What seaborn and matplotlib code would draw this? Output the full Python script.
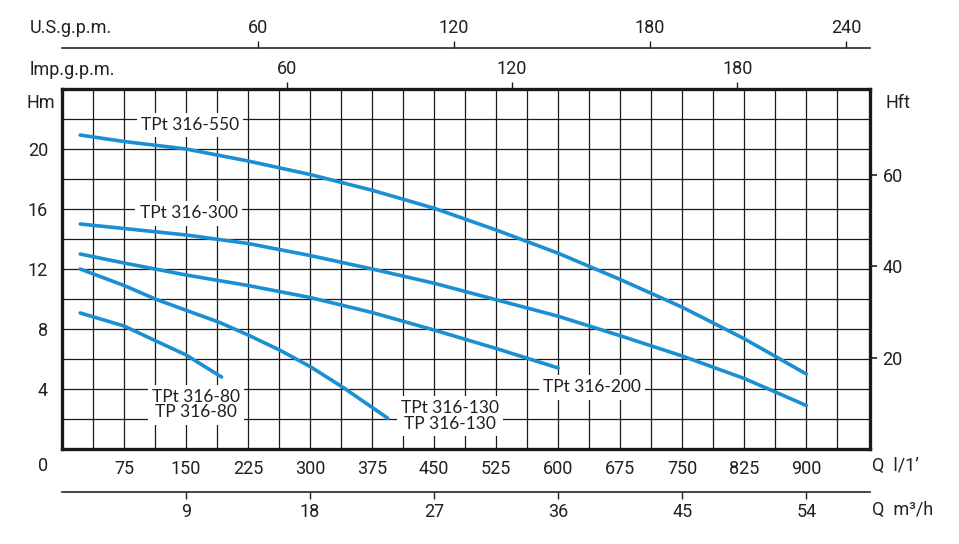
import matplotlib
matplotlib.use('Agg')
import matplotlib.pyplot as plt
import pandas as pd
import seaborn as sns

sns.set_style('white')
plt.rcParams['font.family'] = ['Roboto', 'DejaVu Sans']

# Pump curves: flow Q in l/min, head H in m
q_550 = [22, 75, 150, 225, 300, 375, 450, 525, 600, 675, 750, 825, 900]
h_550 = [20.93, 20.5, 20.0, 19.2, 18.3, 17.25, 16.05, 14.6, 13.05, 11.3, 9.45, 7.35, 5.0]
q_300 = [22, 75, 150, 225, 300, 375, 450, 525, 600, 675, 750, 825, 900]
h_300 = [15.0, 14.7, 14.27, 13.7, 12.9, 12.0, 11.05, 9.95, 8.85, 7.55, 6.2, 4.7, 2.9]
q_200 = [22, 75, 150, 225, 300, 375, 450, 525, 600]
h_200 = [13.0, 12.4, 11.6, 10.9, 10.1, 9.1, 7.93, 6.7, 5.4]
q_130 = [22, 75, 115, 150, 190, 225, 263, 300, 340, 394]
h_130 = [12.0, 10.9, 9.95, 9.25, 8.45, 7.6, 6.6, 5.5, 4.1, 2.05]
q_80 = [22, 75, 111, 150, 193]
h_80 = [9.07, 8.2, 7.27, 6.27, 4.8]

curve_names = ['TPt 316-550', 'TPt 316-300', 'TPt 316-200',
               'TPt 316-130\nTP 316-130', 'TPt 316-80\nTP 316-80']
curve_q = [q_550, q_300, q_200, q_130, q_80]
curve_h = [h_550, h_300, h_200, h_130, h_80]

lpm_ticks = [75, 150, 225, 300, 375, 450, 525, 600, 675, 750, 825, 900]
hm_ticks = [4, 8, 12, 16, 20]
hft_ticks = [20, 40, 60]
imp_ticks = [60, 120, 180]
us_ticks = [60, 120, 180, 240]
m3h_ticks = [9, 18, 27, 36, 45, 54]

df = pd.concat([pd.DataFrame({'Q': q, 'H': h, 'pump': n})
                for n, q, h in zip(curve_names, curve_q, curve_h)])

blue = '#1b8fd4'
ink = '#231f20'
W, H = 959, 544

fig = plt.figure(figsize=(W / 100, H / 100), dpi=100)
ax = fig.add_axes([62 / W, (H - 449) / H, 808 / W, 360 / H])

sns.lineplot(data=df, x='Q', y='H', hue='pump', units='pump', estimator=None,
             palette=[blue] * len(curve_names), linewidth=2.6, legend=False,
             sort=False, ax=ax, zorder=5)

ax.set_xlim(0, 977)
ax.set_ylim(0, 24)
ax.set_xticks(lpm_ticks)
ax.set_xticks([37.5 + 75 * i for i in range(13)], minor=True)
ax.set_yticks(hm_ticks)
ax.set_yticks([2 * i for i in range(1, 12)], minor=True)
ax.grid(True, which='both', color='#1a1a1a', linewidth=0.9, zorder=1)
ax.set_axisbelow(True)
ax.tick_params(axis='both', which='both', length=0, labelsize=13, colors=ink)
ax.tick_params(axis='x', pad=8)
ax.tick_params(axis='y', pad=10)
ax.set_xlabel('')
ax.set_ylabel('')
for s in ax.spines.values():
    s.set_linewidth(2.4)
    s.set_color('#1a1a1a')
    s.set_zorder(6)

# curve labels with white boxes over the grid (data coords)
label_pos = [(155, 21.6), (153, 15.7), (641, 4.1), (469, 2.2), (162, 2.95)]
for name, (x, y) in zip(curve_names, label_pos):
    ax.text(x, y, name, ha='center', va='center', fontsize=12.5, color=ink,
            family=['Lato', 'DejaVu Sans'], linespacing=0.95, zorder=7,
            bbox=dict(facecolor='white', edgecolor='none', pad=3))

# Imp gpm on top of frame
imp = ax.secondary_xaxis('top', functions=(lambda q: q / 4.536, lambda g: g * 4.536))
imp.set_xticks(imp_ticks)
imp.tick_params(length=5, width=1, pad=3, labelsize=13, colors=ink)
imp.spines['top'].set_visible(False)

# US gpm axis above
us = ax.secondary_xaxis((449 - 48) / 360, functions=(lambda q: q / 3.95, lambda g: g * 3.95))
us.set_xticks(us_ticks)
us.tick_params(direction='out', length=5, width=1, pad=3, labelsize=13, colors=ink)
us.spines['top'].set_linewidth(1.2)

# m3/h axis below
m3 = ax.secondary_xaxis((449 - 492) / 360, functions=(lambda q: q * 0.06, lambda m: m / 0.06))
m3.set_xticks(m3h_ticks)
m3.tick_params(direction='out', length=5, width=1, pad=3, labelsize=13, colors=ink)
m3.spines['bottom'].set_linewidth(1.2)

# Hft on the right
ft = ax.secondary_yaxis('right', functions=(lambda m: m * 3.2808, lambda f: f / 3.2808))
ft.set_yticks(hft_ticks)
ft.tick_params(direction='out', length=5, width=1.2, pad=4, labelsize=13, colors=ink)
ft.spines['right'].set_visible(False)

# axis captions
def ftxt(x, y, s, ha='center'):
    fig.text(x / W, 1 - y / H, s, ha=ha, va='center', fontsize=13, color=ink)

ftxt(43, 466, '0')
ftxt(41, 103, 'Hm')
ftxt(898, 103, 'Hft')
ftxt(30, 28, 'U.S.g.p.m.', ha='left')
ftxt(30, 70, 'lmp.g.p.m.', ha='left')
ftxt(872, 466, 'Q  l/1\u2019', ha='left')
ftxt(872, 510, 'Q  m\u00b3/h', ha='left')

fig.savefig('out.png', dpi=100)
